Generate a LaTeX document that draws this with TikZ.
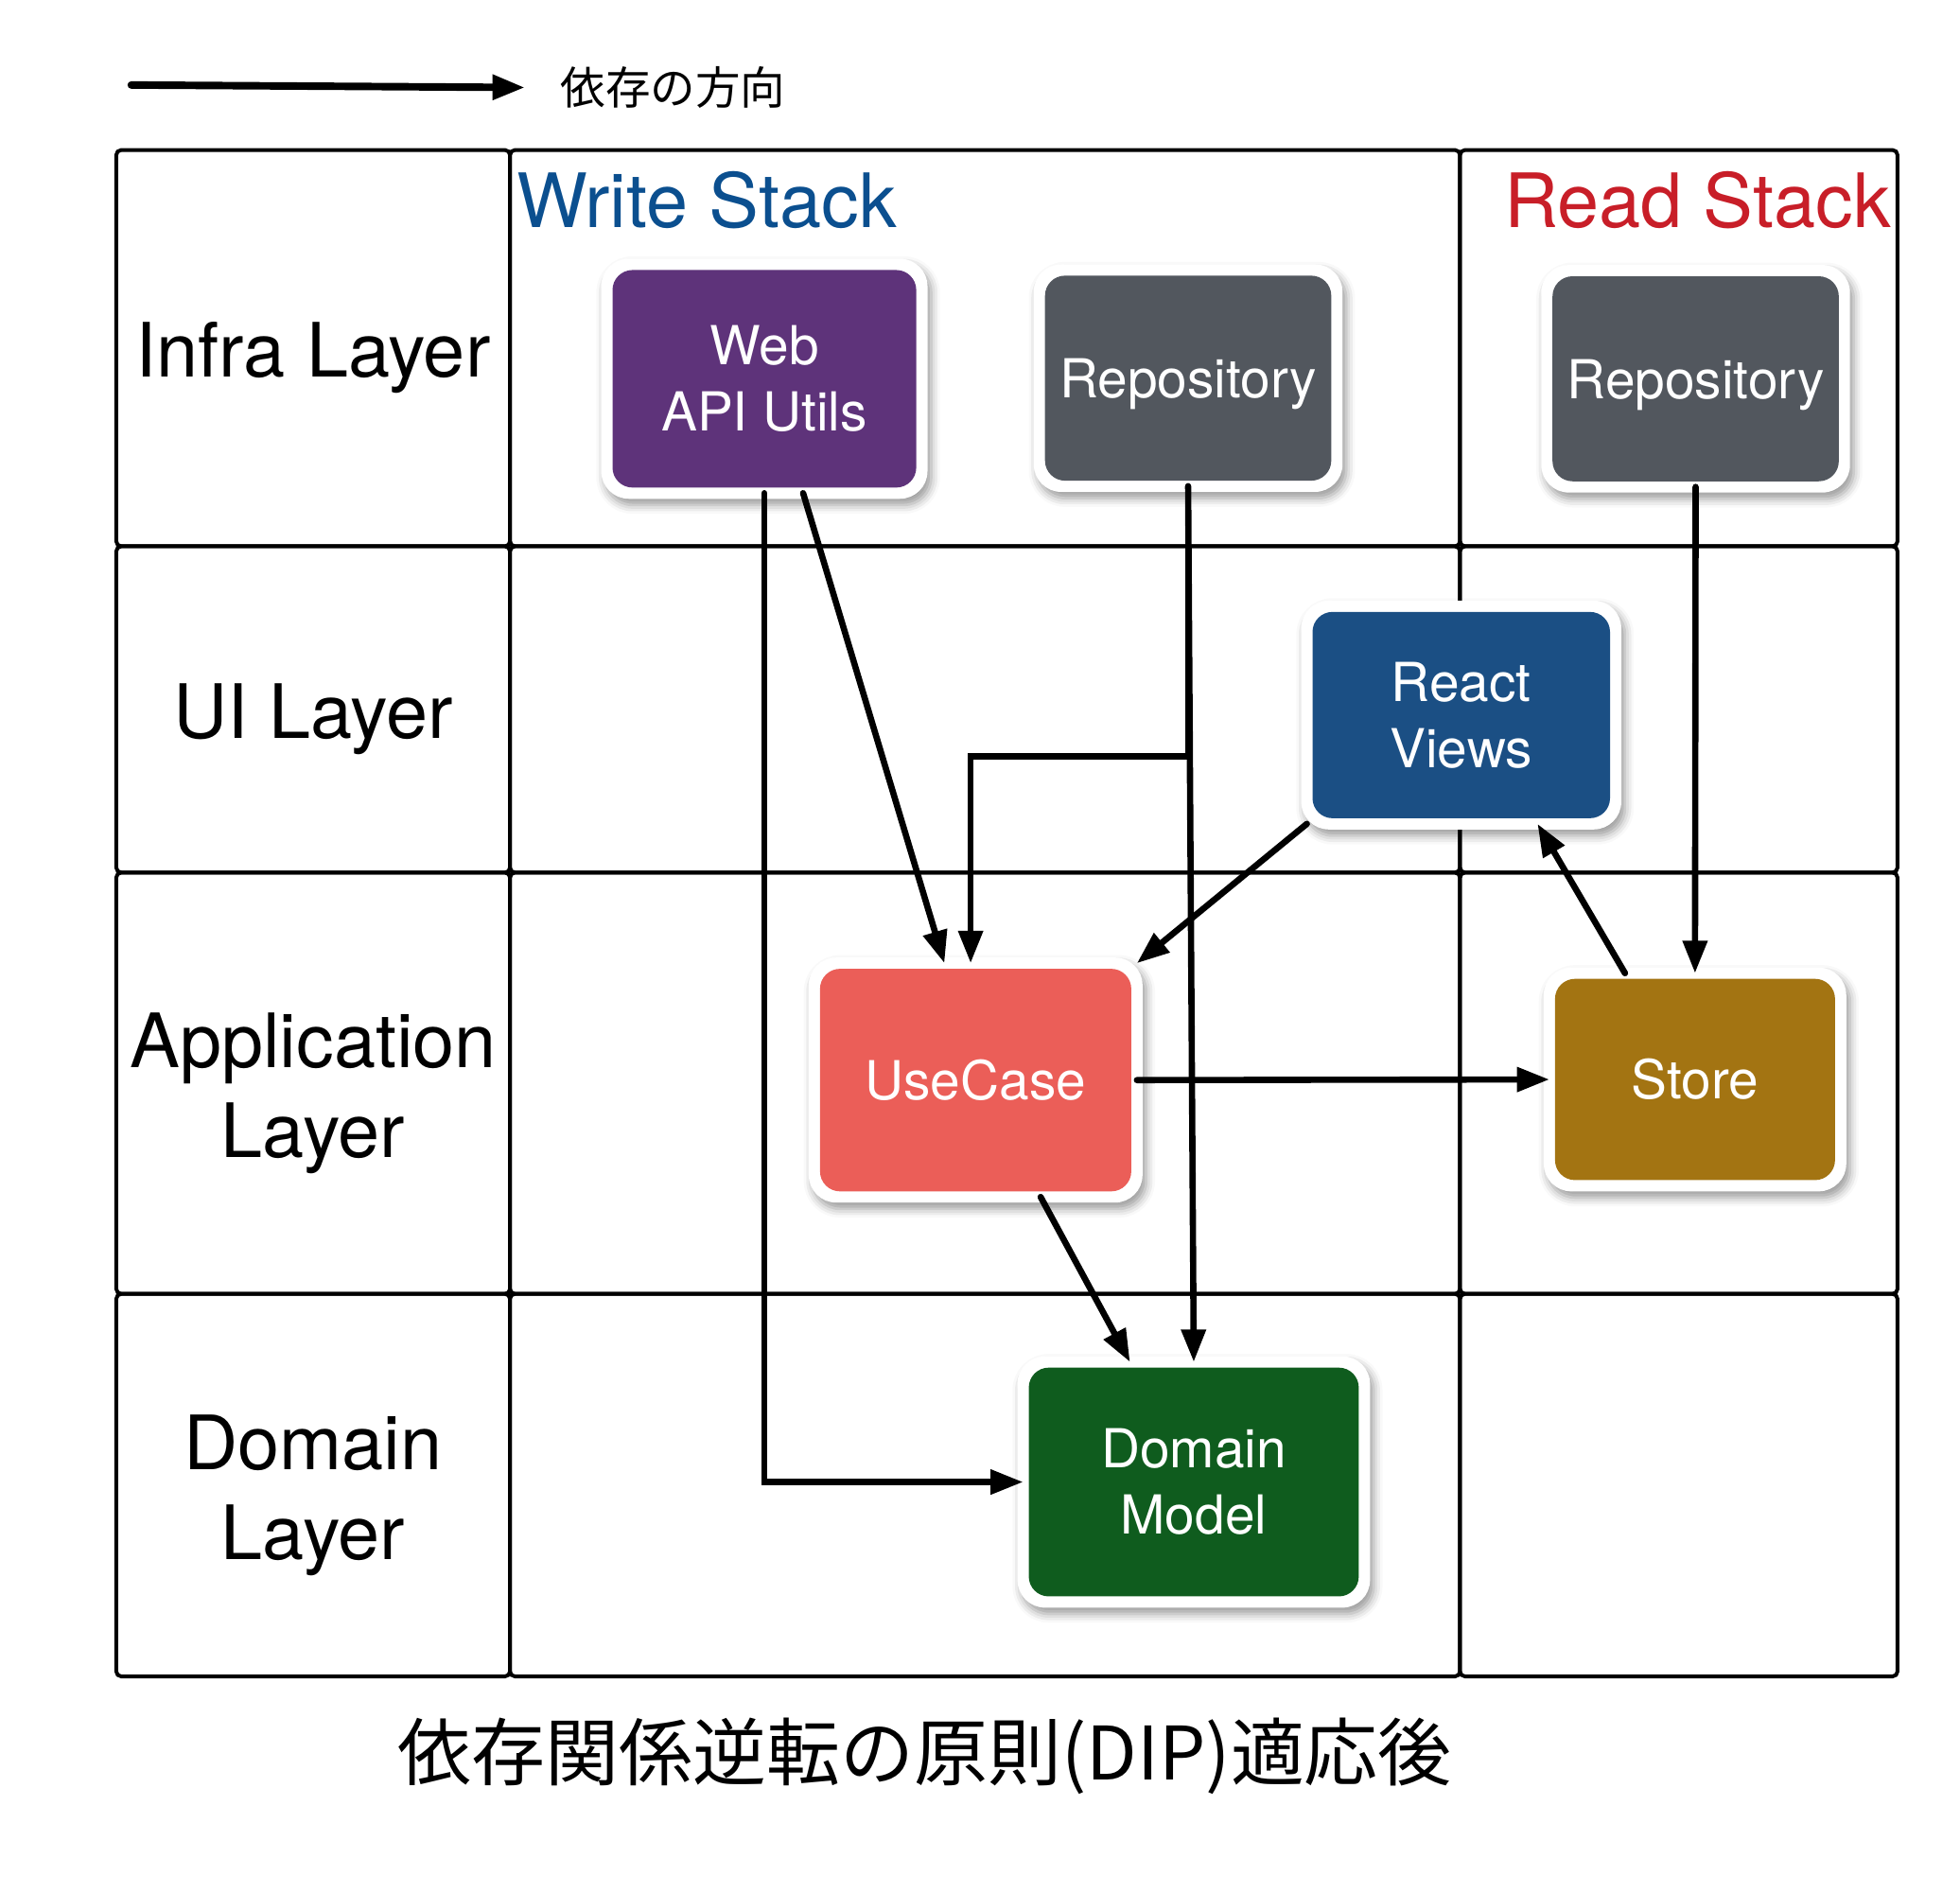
\documentclass[tikz,border=0pt]{standalone}
\usepackage{fontspec}
\setmainfont{TeX Gyre Heros}
\newfontfamily\jp{Noto Sans CJK JP}
\usetikzlibrary{arrows.meta,shadows.blur}

\definecolor{webpurple}{HTML}{5E337A}
\definecolor{repogray}{HTML}{52575E}
\definecolor{reactblue}{HTML}{1B4F84}
\definecolor{caseorange}{HTML}{EB5E58}
\definecolor{storegold}{HTML}{A37412}
\definecolor{domgreen}{HTML}{0F5C1E}
\definecolor{writeblue}{HTML}{0B4F8F}
\definecolor{readred}{HTML}{C81E28}

\tikzset{
  layercell/.style={draw, line width=3pt, rounded corners=4pt},
  layerlabel/.style={font=\fontsize{60}{72}\selectfont, align=center, yshift=-8pt},
  stacktitle/.style={font=\fontsize{60}{72}\selectfont, inner sep=0pt},
  box/.style={fill=white, rounded corners=22pt, outer sep=-4.5pt,
    inner sep=0pt, text=white, align=center, font=\fontsize{43}{53}\selectfont,
    blur shadow={shadow xshift=3pt, shadow yshift=-5pt, shadow blur radius=7pt,
      shadow opacity=40},
    path picture={\fill[#1, rounded corners=16pt]
      ([shift={(9pt,9pt)}]path picture bounding box.south west) rectangle
      ([shift={(-9pt,-9pt)}]path picture bounding box.north east);}},
  dep/.style={line width=5pt, line cap=round, -{Triangle[length=26pt,width=19pt]}}
}

\begin{document}
\begin{tikzpicture}[x=1pt, y=-1pt]
    \useasboundingbox (0,0) rectangle (1568,1514);

    % legend
    \coordinate (l1) at (105,68);
    \coordinate (l2) at (420,70);
    \draw[dep, line width=6pt] (l1) -- (l2);
    \node[anchor=west, font=\jp\fontsize{36}{40}\selectfont] (legend) at (445,70) {依存の方向};

    % grid
    \foreach \xa/\xb in {93/408,408/1168,1168/1518}
      \foreach \ya/\yb in {120/437,437/698,698/1035,1035/1341}
        \draw[layercell] (\xa,\ya) rectangle (\xb,\yb);

    \node[layerlabel] (infra) at (250.5,278.5) {Infra Layer};
    \node[layerlabel] (ui) at (250.5,567.5) {UI Layer};
    \node[layerlabel] (app) at (250.5,866.5) {Application\\Layer};
    \node[layerlabel] (dom) at (250.5,1188) {Domain\\Layer};

    \node[stacktitle, anchor=west, text=writeblue] (write) at (413,160) {Write Stack};
    \node[stacktitle, anchor=east, text=readred] (read) at (1513,160) {Read Stack};

    % components
    \node[box=webpurple, minimum width=261pt, minimum height=192pt] (web) at (611.5,303) {Web\\API Utils};
    \node[box=repogray, minimum width=247pt, minimum height=182pt, text depth=0pt] (repoW) at (950.5,302.5) {Repository};
    \node[box=repogray, minimum width=247pt, minimum height=182pt, text depth=0pt] (repoR) at (1356.5,303) {Repository};
    \node[box=reactblue, minimum width=256pt, minimum height=183pt] (react) at (1169,572) {React\\Views};
    \node[box=caseorange, minimum width=267pt, minimum height=196pt] (usecase) at (780.5,864) {UseCase};
    \node[box=storegold, minimum width=242pt, minimum height=179pt] (store) at (1356,863.5) {Store};
    \node[box=domgreen, minimum width=282pt, minimum height=201pt] (domain) at (955,1185.5) {Domain\\Model};

    % dependencies
    \draw[dep] (web.south) |- (domain.west);
    \draw[dep] ([xshift=31pt]web.south) -- ([xshift=-25pt]usecase.north);
    \draw[dep] (repoW.south) -- ++(0,216) -| ([xshift=-4pt]usecase.north);
    \draw[dep] (repoW.south) -- (domain.north);
    \draw[dep] (react.south west) -- (usecase.north east);
    \draw[dep] (usecase.east) -- (store.west);
    \draw[dep] ([xshift=52pt]usecase.south) -- ([xshift=-51pt]domain.north);
    \draw[dep] ([xshift=-56pt]store.north) -- ([xshift=61pt]react.south);
    \draw[dep] (repoR.south) -- (store.north);

    \node[font=\jp\fontsize{59}{64}\selectfont] (caption) at (740,1405) {依存関係逆転の原則(DIP)適応後};
\end{tikzpicture}
\end{document}
